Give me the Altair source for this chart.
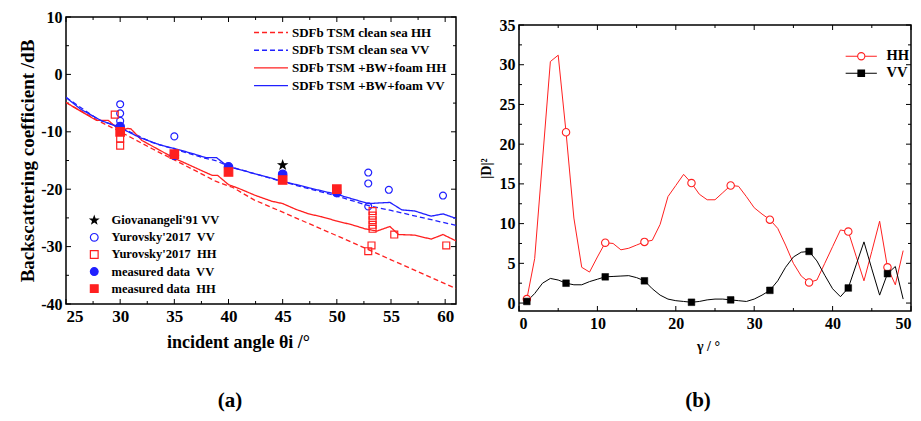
import altair as alt
import pandas as pd

FONT = "Liberation Serif"

# ---------------- panel (a) data ----------------
series_names = ["SDFb TSM clean sea HH", "SDFb TSM clean sea VV",
                "SDFb TSM +BW+foam HH", "SDFb TSM +BW+foam VV"]
series_colors = ["#ff2020", "#2020ff", "#ff2020", "#2020ff"]
series_dash = [[5, 3], [5, 3], [1, 0], [1, 0]]

hh_clean_theta = [25, 28, 30, 31, 33, 35, 38, 38.8, 40.4, 42.4, 45, 50, 53, 55, 58, 61]
hh_clean_val = [-4.9, -8.1, -10.0, -11.0, -13.0, -14.9, -17.8, -18.6, -19.7, -21.9, -24.0, -28.1, -30.6, -32.3, -34.8, -37.3]

vv_clean_theta = [25, 28, 30, 33, 35, 37.8, 38.8, 40, 42.8, 45, 50, 53, 55, 58, 61]
vv_clean_val = [-4.0, -7.9, -9.2, -11.9, -13.0, -14.6, -15.0, -16.0, -17.5, -18.7, -21.2, -22.9, -23.7, -25.0, -26.3]

hh_foam_theta = [25, 27.8, 28.9, 30, 30.7, 31, 32, 35, 38.5, 39, 40, 41, 42.5, 44, 45, 46.2, 47.4,
                 48.6, 49.9, 51.4, 52.6, 53.7, 54.9, 55.7, 57.2, 58.7, 59.8, 61]
hh_foam_val = [-4.9, -8.0, -8.0, -9.8, -9.4, -9.5, -11.5, -14.6, -17.6, -17.6, -19.2, -19.9, -21.1, -22.1,
               -22.5, -23.5, -24.3, -24.8, -25.5, -26.2, -26.9, -27.3, -26.5, -27.9, -28.0, -28.7, -27.9, -29.0]

vv_foam_theta = [25, 26.3, 28.2, 30, 31.8, 33.7, 35, 36.7, 37.9, 38.9, 39.9, 42.8, 45, 47.5, 50,
                 52.9, 54.9, 56, 57.2, 58.7, 59.8, 61]
vv_foam_val = [-4.0, -6.0, -8.0, -9.3, -11.0, -12.3, -12.9, -13.8, -14.5, -14.5, -16.0, -17.5, -18.6,
               -19.8, -20.9, -22.5, -22.3, -23.6, -23.8, -24.7, -24.3, -25.1]

src_names = ["Giovanangeli'91 VV", "Yurovsky'2017\u00a0 VV", "Yurovsky'2017\u00a0 HH",
             "measured data\u00a0 VV", "measured data\u00a0 HH"]
STAR = ("M0,-1L0.235,-0.324L0.951,-0.309L0.38,0.124L0.588,0.809L0,0.4L-0.588,0.809"
        "L-0.38,0.124L-0.951,-0.309L-0.235,-0.324Z")
src_shapes = [STAR, "circle", "square", "circle", "square"]
src_stroke = ["black", "#2020ff", "#ff2020", "#2020ff", "#ff2020"]
src_fill = ["black", "transparent", "transparent", "#2020ff", "#ff2020"]

gio_theta = [45]
gio_val = [-15.8]
yur_vv_theta = [30, 30, 30, 35, 52.9, 52.9, 52.9, 54.8, 59.8]
yur_vv_val = [-5.2, -6.8, -8.1, -10.8, -17.1, -19.0, -23.0, -20.1, -21.1]
yur_hh_theta = [29.5, 30, 30, 53.3, 53.3, 53.3, 53.3, 53.3, 53.2, 52.9, 55.3, 60.1]
yur_hh_val = [-7.0, -11.2, -12.4, -23.8, -24.6, -25.4, -26.2, -26.9, -29.8, -30.8, -27.9, -29.8]
meas_vv_theta = [30, 35, 40, 45, 50]
meas_vv_val = [-9.1, -14.1, -16.1, -17.4, -20.6]
meas_hh_theta = [30, 35, 40, 45, 50]
meas_hh_val = [-10.0, -13.9, -17.0, -18.4, -20.0]

xa_labels = [25, 30, 35, 40, 45, 50, 55, 60]
xa_minor = [27.5, 32.5, 37.5, 42.5, 47.5, 52.5, 57.5]
ya_labels = [-40, -30, -20, -10, 0, 10]
ya_minor = [-35, -25, -15, -5, 5]

# ---------------- panel (b) data ----------------
gamma = list(range(1, 50))
hh_b = [0.5, 5.6, 18.0, 30.4, 31.2, 21.5, 10.7, 4.5, 3.9, 5.8, 7.6, 7.5, 6.7, 6.9, 7.3, 7.7, 7.9,
        9.9, 13.4, 14.8, 16.2, 15.1, 13.7, 13.0, 13.0, 13.9, 14.8, 14.7, 13.4, 12.0, 11.2, 10.5,
        9.4, 7.3, 5.0, 3.4, 2.6, 2.9, 5.0, 7.1, 9.2, 9.0, 5.9, 2.8, 6.5, 10.3, 4.5, 2.3, 6.6]
vv_b = [0.2, 1.2, 2.5, 3.1, 2.9, 2.5, 2.3, 2.3, 2.7, 3.0, 3.3, 3.35, 3.4, 3.45, 3.2, 2.8, 1.8,
        1.0, 0.5, 0.3, 0.2, 0.1, 0.2, 0.4, 0.5, 0.5, 0.4, 0.3, 0.2, 0.5, 1.0, 1.6, 2.8, 4.5, 5.8,
        6.4, 6.5, 5.3, 3.5, 1.8, 0.8, 1.9, 4.8, 7.7, 4.3, 1.0, 3.7, 4.6, 0.5]
marker_gamma = [1, 6, 11, 16, 22, 27, 32, 37, 42, 47]

xb_labels = [0, 10, 20, 30, 40, 50]
xb_minor = [5, 15, 25, 35, 45]
yb_labels = [0, 5, 10, 15, 20, 25, 30, 35]
yb_minor = [2.5, 7.5, 12.5, 17.5, 22.5, 27.5, 32.5]

pol_names = ["HH", "VV"]
pol_colors = ["#ff2020", "black"]
HH_SYM = "M-2.6,0H-0.6M0.6,0H2.6M-0.6,0A0.6,0.6,0,1,0,0.6,0A0.6,0.6,0,1,0,-0.6,0Z"
VV_SYM = "M-2.6,0H-0.55M0.55,0H2.6M-0.55,-0.55H0.55V0.55H-0.55Z"

# ---------------- build tables ----------------
rows = []
for name, th, vv in zip(series_names,
                        [hh_clean_theta, vv_clean_theta, hh_foam_theta, vv_foam_theta],
                        [hh_clean_val, vv_clean_val, hh_foam_val, vv_foam_val]):
    for t, v in zip(th, vv):
        rows.append({"theta": t, "val": v, "series": name})
df_lines = pd.DataFrame(rows)

prow = []
for name, th, vv in zip(src_names,
                        [gio_theta, yur_vv_theta, yur_hh_theta, meas_vv_theta, meas_hh_theta],
                        [gio_val, yur_vv_val, yur_hh_val, meas_vv_val, meas_hh_val]):
    for t, v in zip(th, vv):
        prow.append({"theta": t, "val": v, "source": name,
                     "filled": name.startswith("measured") or name.startswith("Giov")})
df_pts = pd.DataFrame(prow)

brow = []
for pol, vals in zip(pol_names, [hh_b, vv_b]):
    for g, v in zip(gamma, vals):
        brow.append({"gamma": g, "val": v, "pol": pol, "mk": g in marker_gamma})
df_b = pd.DataFrame(brow)

WA, HA = 390, 287
WB, HB = 392, 286
TOPB = 8                 # panel (b) plot sits lower than panel (a)
ONE = pd.DataFrame({"c": [0]})


def frame(w, h, top=0):
    return alt.Chart(ONE).mark_rect(fill="transparent", stroke="black", strokeWidth=1.5).encode(
        x=alt.value(0), x2=alt.value(w), y=alt.value(top), y2=alt.value(top + h))


def tick_layers(xmaj, xmin, ymaj, ymin, xs, ys, xax, yax, w, h, top=0, big=5, small=3):
    out = []
    for vals, ln in [(xmaj, big), (xmin, small)]:
        c = alt.Chart(pd.DataFrame({"t": vals})).mark_rule(color="black", strokeWidth=1)
        X = alt.X("t:Q", scale=xs, axis=xax)
        out.append(c.encode(x=X, y=alt.value(top + h), y2=alt.value(top + h - ln)))
        out.append(c.encode(x=X, y=alt.value(top), y2=alt.value(top + ln)))
    for vals, ln in [(ymaj, big), (ymin, small)]:
        c = alt.Chart(pd.DataFrame({"t": vals})).mark_rule(color="black", strokeWidth=1)
        Y = alt.Y("t:Q", scale=ys, axis=yax)
        out.append(c.encode(y=Y, x=alt.value(0), x2=alt.value(ln)))
        out.append(c.encode(y=Y, x=alt.value(w), x2=alt.value(w - ln)))
    return out


def caption(txt, x, y):
    return alt.Chart(pd.DataFrame({"c": [txt]})).mark_text(
        font=FONT, fontSize=21, fontWeight="bold", color="black", align="center", baseline="middle"
    ).encode(text="c:N", x=alt.value(x), y=alt.value(y))


# ---------------- panel (a) ----------------
xa = alt.Scale(domain=[25, 61], nice=False, zero=False)
ya = alt.Scale(domain=[-40, 10], nice=False, zero=False)
xa_axis = alt.Axis(values=xa_labels, title="incident angle θi /°", labelExpr="datum.value + ''",
                   titlePadding=9, labelFontSize=17, titleFontSize=18, titleX=172)
ya_axis = alt.Axis(values=ya_labels, title="Backscattering coefficient /dB",
                   labelExpr="datum.value + ''", titlePadding=3, labelFontSize=16, titleFontSize=19)

leg_lines = alt.Legend(title=None, orient="none", legendX=198, legendY=8.5, padding=0,
                       symbolType="M-2.83,0H2.83", symbolSize=144, symbolStrokeWidth=1.4,
                       labelFont=FONT, labelFontSize=13, labelFontWeight="bold", labelColor="black",
                       labelOffset=14, rowPadding=3.7)

lines_a = alt.Chart(df_lines).mark_line(strokeWidth=1.3, clip=True).encode(
    x=alt.X("theta:Q", scale=xa, axis=xa_axis),
    y=alt.Y("val:Q", scale=ya, axis=ya_axis),
    color=alt.Color("series:N", scale=alt.Scale(domain=series_names, range=series_colors), legend=leg_lines),
    strokeDash=alt.StrokeDash("series:N", scale=alt.Scale(domain=series_names, range=series_dash),
                              legend=leg_lines),
)

leg_pts = alt.Legend(title=None, orient="none", legendX=22, legendY=197, padding=0,
                     symbolSize=60, symbolStrokeWidth=1.2,
                     labelFont=FONT, labelFontSize=12.5, labelFontWeight="bold", labelColor="black",
                     labelOffset=11, rowPadding=3.1)


def pts_layer(filter_expr, size):
    return alt.Chart(df_pts).transform_filter(filter_expr).mark_point(strokeWidth=1.2, size=size, opacity=1).encode(
        x=alt.X("theta:Q", scale=xa, axis=xa_axis),
        y=alt.Y("val:Q", scale=ya, axis=ya_axis),
        shape=alt.Shape("source:N", scale=alt.Scale(domain=src_names, range=src_shapes), legend=leg_pts),
        stroke=alt.Stroke("source:N", scale=alt.Scale(domain=src_names, range=src_stroke), legend=leg_pts),
        fill=alt.Fill("source:N", scale=alt.Scale(domain=src_names, range=src_fill), legend=leg_pts),
    )


pts_open = pts_layer("!datum.filled", 48)
pts_fill = pts_layer("datum.filled", 72)

panel_a = alt.layer(
    frame(WA, HA),
    *tick_layers(xa_labels, xa_minor, ya_labels, ya_minor, xa, ya, xa_axis, ya_axis, WA, HA),
    lines_a, pts_open, pts_fill,
    caption("(a)", 164, 384),
).properties(width=WA, height=HA)

# ---------------- panel (b) ----------------
xb = alt.Scale(domain=[0, 50], nice=False, zero=False)
yb = alt.Scale(domain=[-1, 35], nice=False, zero=False, range=[TOPB + HB, TOPB])
xb_axis = alt.Axis(values=xb_labels, title="γ  / °", titleFontSize=14, titlePadding=8, labelFontSize=16,
                   titleX=189)
yb_axis = alt.Axis(values=yb_labels, title="|D|²", titleFontSize=14, titlePadding=6, labelFontSize=16)


def pol_line(pol, color):
    return alt.Chart(df_b).transform_filter(f"datum.pol == '{pol}'").mark_line(
        strokeWidth=1, color=color
    ).encode(x=alt.X("gamma:Q", scale=xb, axis=xb_axis), y=alt.Y("val:Q", scale=yb, axis=yb_axis))


line_hh = pol_line(pol_names[0], pol_colors[0])
line_vv = pol_line(pol_names[1], pol_colors[1])

hh_mk = alt.Chart(df_b).transform_filter("datum.mk && datum.pol == 'HH'").mark_point(
    shape="circle", filled=True, fill="white", stroke="#ff2020", strokeWidth=1.1, size=55, opacity=1
).encode(x=alt.X("gamma:Q", scale=xb, axis=xb_axis), y=alt.Y("val:Q", scale=yb, axis=yb_axis))

vv_mk = alt.Chart(df_b).transform_filter("datum.mk && datum.pol == 'VV'").mark_point(
    shape="square", filled=True, fill="black", stroke="black", strokeWidth=0.5, size=45, opacity=1
).encode(x=alt.X("gamma:Q", scale=xb, axis=xb_axis), y=alt.Y("val:Q", scale=yb, axis=yb_axis))

leg_b = alt.Legend(title=None, orient="none", legendX=335, legendY=TOPB + 24, padding=0,
                   symbolSize=144, symbolStrokeWidth=1.1,
                   labelFont=FONT, labelFontSize=14.5, labelFontWeight="bold", labelColor="black",
                   labelOffset=18, rowPadding=2)

# legend carrier: no marks drawn (empty after filter); legend built from explicit scale domains
leg_layer = alt.Chart(df_b).transform_filter("false").mark_point(opacity=1, strokeWidth=1.1).encode(
    x=alt.X("gamma:Q", scale=xb, axis=xb_axis), y=alt.Y("val:Q", scale=yb, axis=yb_axis),
    shape=alt.Shape("pol:N", scale=alt.Scale(domain=pol_names, range=[HH_SYM, VV_SYM]), legend=leg_b),
    stroke=alt.Stroke("pol:N", scale=alt.Scale(domain=pol_names, range=pol_colors), legend=leg_b),
    fill=alt.Fill("pol:N", scale=alt.Scale(domain=pol_names, range=["white", "black"]), legend=leg_b),
)

panel_b = alt.layer(
    frame(WB, HB, TOPB),
    *tick_layers(xb_labels, xb_minor, yb_labels, yb_minor, xb, yb, xb_axis, yb_axis, WB, HB, TOPB),
    line_hh, line_vv, hh_mk, vv_mk, leg_layer,
    caption("(b)", 179, 384),
).properties(width=WB, height=HB + TOPB)

IND = dict(color="independent", strokeDash="independent", stroke="independent",
           fill="independent", shape="independent")

chart = alt.hconcat(panel_a, panel_b, spacing=20).resolve_scale(**IND).resolve_legend(**IND).properties(
    padding={"left": 10, "top": 0, "right": 0, "bottom": 0}
).configure_view(stroke="transparent").configure_axis(
    labelFont=FONT, labelFontWeight="bold", labelColor="black",
    titleFont=FONT, titleFontWeight="bold", titleColor="black",
    tickSize=0, domain=False, grid=False, labelPadding=4
)

chart.save("out.html", embed_options={"renderer": "svg", "actions": False})
